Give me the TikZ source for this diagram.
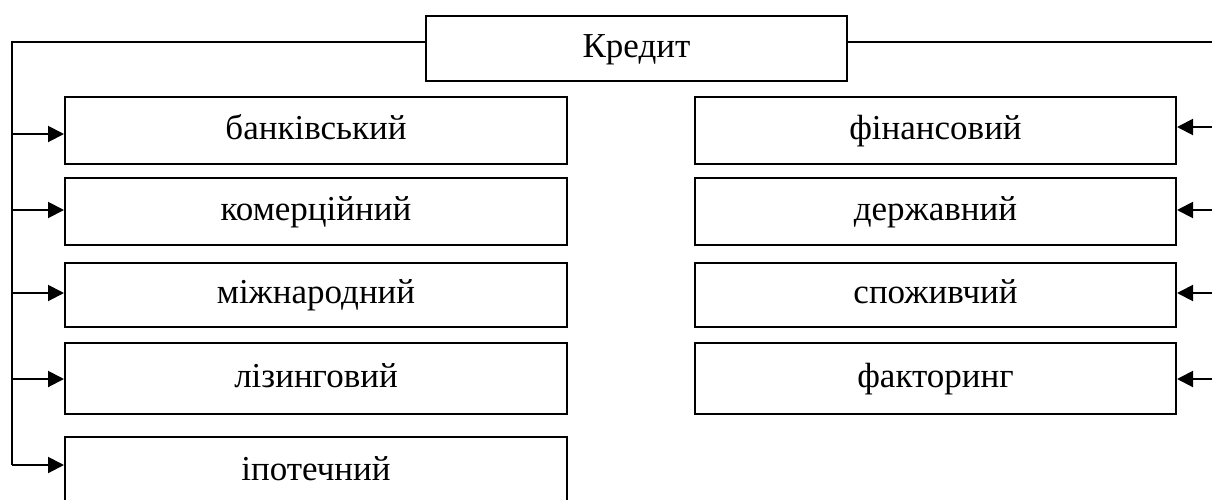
\documentclass[tikz,border=0pt]{standalone}
\usepackage{fontspec}
\setmainfont{Liberation Serif}
\usetikzlibrary{arrows.meta}
\begin{document}
\begin{tikzpicture}[x=1pt,y=1pt,
  box/.style={draw, line width=2pt, inner sep=0pt, anchor=north west,
    font=\fontsize{35}{38}\selectfont, text height=24pt, text depth=7pt},
  lbox/.style={box, minimum width=502pt},
  rbox/.style={box, minimum width=481pt},
  conn/.style={line width=2pt},
  arr/.style={conn, -{Triangle[length=16pt,width=16pt]}}]
\useasboundingbox (0,0) rectangle (1212,-499);
\node[box, minimum width=421pt, minimum height=65pt] (kr) at (425,-15) {Кредит};
\node[lbox, minimum height=67pt] (b1) at (64,-96) {банківський};
\node[lbox, minimum height=67pt] (b2) at (64,-177) {комерційний};
\node[lbox, minimum height=64pt] (b3) at (64,-262) {міжнародний};
\node[lbox, minimum height=71pt] (b4) at (64,-342) {лізинговий};
\node[lbox, minimum height=70pt] (b5) at (64,-436) {іпотечний};
\node[rbox, minimum height=67pt] (r1) at (694,-96) {фінансовий};
\node[rbox, minimum height=67pt] (r2) at (694,-177) {державний};
\node[rbox, minimum height=64pt] (r3) at (694,-262) {споживчий};
\node[rbox, minimum height=71pt] (r4) at (694,-342) {факторинг};
\coordinate (lt) at (12,-42);
\coordinate (rt) at (1213,-42);
\coordinate (l1) at (12,-134);
\coordinate (l2) at (12,-210);
\coordinate (l3) at (12,-293);
\coordinate (l4) at (12,-379);
\coordinate (l5) at (12,-465);
\coordinate (q1) at (1213,-127);
\coordinate (q2) at (1213,-210);
\coordinate (q3) at (1213,-293);
\coordinate (q4) at (1213,-379);
\draw[conn] (kr.west |- lt) -- (lt) -- (l5);
\draw[conn] (kr.east |- rt) -- (rt);
\draw[arr] (l1) -- (l1 -| b1.west);
\draw[arr] (l2) -- (l2 -| b2.west);
\draw[arr] (l3) -- (l3 -| b3.west);
\draw[arr] (l4) -- (l4 -| b4.west);
\draw[arr] (l5) -- (l5 -| b5.west);
\draw[arr] (q1) -- (q1 -| r1.east);
\draw[arr] (q2) -- (q2 -| r2.east);
\draw[arr] (q3) -- (q3 -| r3.east);
\draw[arr] (q4) -- (q4 -| r4.east);
\end{tikzpicture}
\end{document}
